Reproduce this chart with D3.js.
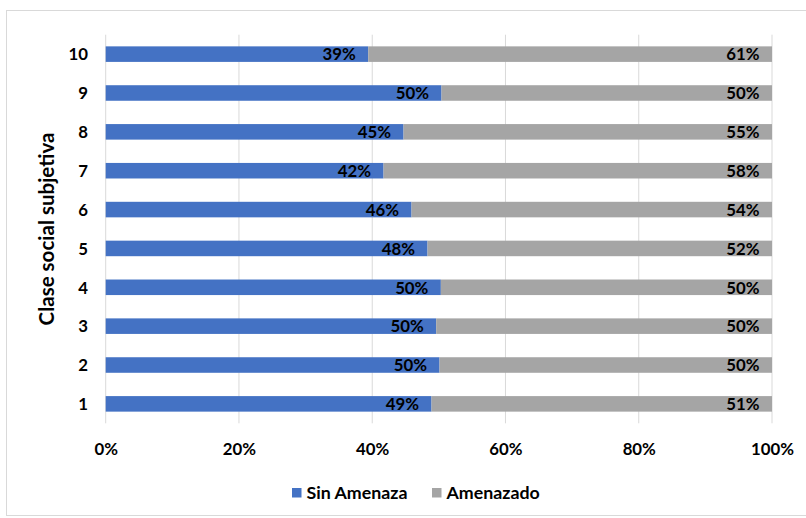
<!DOCTYPE html>
<html>
<head>
<meta charset="utf-8">
<script src="https://cdn.jsdelivr.net/npm/d3@7"></script>
<style>
  html, body { margin: 0; padding: 0; background: #fff; }
  svg { display: block; }
  text { font-family: Lato, "Open Sans", sans-serif; font-weight: bold; fill: #000; }
</style>
</head>
<body>
<svg id="chart" width="806" height="518"></svg>
<script>
// Data
const categories = ["1", "2", "3", "4", "5", "6", "7", "8", "9", "10"];
const sinAmenaza = [0.489, 0.501, 0.496, 0.503, 0.483, 0.459, 0.417, 0.447, 0.504, 0.394];
const amenazado  = [0.511, 0.499, 0.504, 0.497, 0.517, 0.541, 0.583, 0.553, 0.496, 0.606];
const seriesNames = ["Sin Amenaza", "Amenazado"];
const seriesColors = ["#4472C4", "#A5A5A5"];
const xTicks = [0, 0.2, 0.4, 0.6, 0.8, 1.0];
const yTitle = "Clase social subjetiva";

(function () {
const svg = d3.select("#chart");

// chart border
svg.append("rect").attr("x", 6.5).attr("y", 10.5).attr("width", 830).attr("height", 505)
  .attr("fill", "none").attr("stroke", "#d9d9d9").attr("stroke-width", 1);

const pLeft = 105.7, pRight = 772, pTop = 34.7, pBottom = 423.3;

const x = d3.scaleLinear().domain([0, 1]).range([pLeft, pRight]);
const y = d3.scaleBand().domain(categories.slice().reverse()).range([pTop, pBottom]).paddingInner(0.6).paddingOuter(0.3);

// gridlines
const grid = svg.append("g");
grid.selectAll("line").data(xTicks).join("line")
  .attr("x1", d => x(d)).attr("x2", d => x(d))
  .attr("y1", pTop).attr("y2", pBottom)
  .attr("stroke", "#d9d9d9").attr("stroke-width", 1);

// stacked data
const rows = categories.map((c, i) => ({ cat: c, "Sin Amenaza": sinAmenaza[i], "Amenazado": amenazado[i] }));
const stack = d3.stack().keys(seriesNames)(rows);

const groups = svg.append("g").selectAll("g").data(stack).join("g")
  .attr("fill", (d, i) => seriesColors[i]);

groups.selectAll("rect").data(d => d).join("rect")
  .attr("x", d => x(d[0]))
  .attr("width", d => x(d[1]) - x(d[0]))
  .attr("y", d => y(d.data.cat))
  .attr("height", y.bandwidth());

// labels inside end
const fmt = v => Math.round(v * 100) + "%";
const lab = svg.append("g");
stack.forEach((s) => {
  lab.selectAll(null).data(s).join("text")
    .attr("x", d => x(d[1]) - 12.5)
    .attr("y", d => y(d.data.cat) + y.bandwidth() / 2)
    .attr("dy", "0.37em")
    .attr("text-anchor", "end")
    .attr("font-size", 16.8)
    .text(d => fmt(d[1] - d[0]));
});

// x axis labels
const xAxis = d3.axisBottom(x).tickValues(xTicks).tickFormat(d3.format(".0%")).tickSize(0).tickPadding(0);
const xg = svg.append("g").attr("transform", `translate(0,${pBottom})`).call(xAxis);
xg.select(".domain").remove();
xg.selectAll("text").attr("font-size", 16.8).attr("y", 31.5).attr("dy", 0)
  .style("font-family", "Lato, sans-serif").style("font-weight", "bold").attr("fill", "#000");

// y axis labels
const yAxis = d3.axisLeft(y).tickSize(0).tickPadding(0);
const yg = svg.append("g").attr("transform", `translate(88,0)`).call(yAxis);
yg.select(".domain").remove();
yg.selectAll("text").attr("font-size", 16.8).attr("x", 0).attr("dy", "0.37em")
  .style("font-family", "Lato, sans-serif").style("font-weight", "bold").attr("fill", "#000");

// y title
svg.append("text")
  .attr("transform", `translate(54,${(pTop + pBottom) / 2}) rotate(-90)`)
  .attr("text-anchor", "middle")
  .attr("font-size", 20.5)
  .text(yTitle);

// legend
const legendItems = [{ name: seriesNames[0], color: seriesColors[0], x: 292 }, { name: seriesNames[1], color: seriesColors[1], x: 432 }];
const lg = svg.append("g");
legendItems.forEach(it => {
  lg.append("rect").attr("x", it.x).attr("y", 488).attr("width", 9.5).attr("height", 9.5).attr("fill", it.color);
  lg.append("text").attr("x", it.x + 14.5).attr("y", 498.5).attr("font-size", 17.8).text(it.name);
});
})();
</script>
</body>
</html>
